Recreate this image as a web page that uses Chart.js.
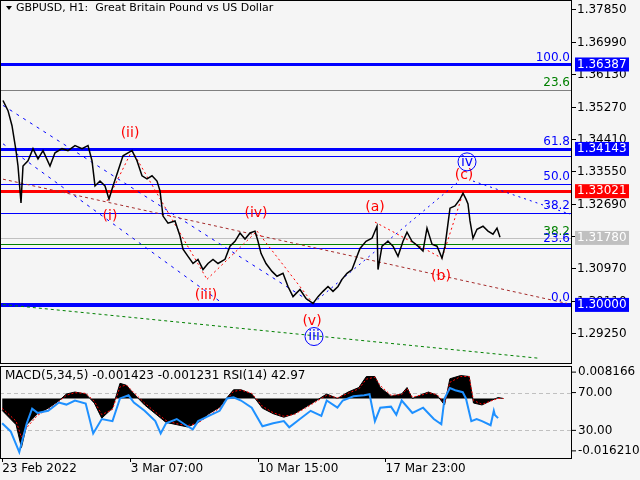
<!DOCTYPE html>
<html>
<head>
<meta charset="utf-8">
<script src="https://cdn.jsdelivr.net/npm/chart.js@4"></script>
<style>
  body { margin: 0; background: #f5f5f5; width: 640px; height: 480px; overflow: hidden; position: relative; }
  canvas { position: absolute; left: 0; }
  #main { top: 0; }
  #sub { top: 364px; }
</style>
</head>
<body>
<canvas id="main" width="640" height="364"></canvas>
<canvas id="sub" width="640" height="116"></canvas>
<script>
// price path (bar position, close)
const priceX = [3,8,12,16,18,21,23,28,33,38,43,50,55,62,68,75,82,88,92,95,100,105,109,113,118,123,128,132,137,142,147,152,157,160,163,168,175,180,183,188,193,198,203,208,213,218,225,230,235,240,245,250,255,258,261,266,272,277,283,288,293,300,306,313,318,323,328,333,338,342,347,352,357,360,366,372,377,378,382,388,393,398,403,407,412,418,423,427,432,437,442,445,447,450,455,460,463,466,468,470,473,477,483,488,493,497,500];
const priceY = [1.3543,1.3516,1.3476,1.3410,1.3369,1.3271,1.3369,1.3383,1.3415,1.3388,1.3410,1.3369,1.3404,1.3415,1.3410,1.3423,1.3415,1.3423,1.3383,1.3316,1.3329,1.3316,1.3281,1.3316,1.3356,1.3396,1.3404,1.3410,1.3383,1.3343,1.3335,1.3343,1.3329,1.3303,1.3236,1.3217,1.3223,1.3183,1.3148,1.3129,1.3110,1.3121,1.3094,1.3110,1.3121,1.3110,1.3121,1.3156,1.3169,1.3191,1.3175,1.3191,1.3196,1.3169,1.3137,1.3110,1.3089,1.3076,1.3084,1.3049,1.3022,1.3041,1.3017,1.3004,1.3022,1.3036,1.3049,1.3036,1.3049,1.3068,1.3084,1.3094,1.3129,1.3150,1.3169,1.3177,1.3209,1.3094,1.3156,1.3169,1.3156,1.3129,1.3169,1.3193,1.3169,1.3156,1.3143,1.3204,1.3161,1.3156,1.3124,1.3156,1.3196,1.3257,1.3263,1.3281,1.3297,1.3281,1.3268,1.3223,1.3177,1.3201,1.3209,1.3196,1.3188,1.3204,1.3180];

const priceTicks = [1.37850,1.36990,1.36130,1.35270,1.34410,1.33550,1.32690,1.31830,1.30970,1.30110,1.29250];

// horizontal levels: [price, color, width]
const levels = [
  [1.36387,'#0000ff',3],[1.35720,'#808080',1],[1.34143,'#0000ff',3],[1.33960,'#0000ff',1],
  [1.33210,'#0000ff',1],[1.33021,'#ff0000',3],[1.32440,'#0000ff',1],[1.31780,'#c0c0c0',1],
  [1.31610,'#008000',1],[1.31510,'#0000ff',1],[1.30000,'#0000ff',4]
];
// fibo labels: [text, price, color]
const fiboLabels = [
  ['100.0',1.36387,'#0000ff'],['23.6',1.35720,'#008000'],['61.8',1.34143,'#0000ff'],
  ['50.0',1.33210,'#0000ff'],['38.2',1.32440,'#0000ff'],['38.2',1.31760,'#008000'],
  ['23.6',1.31560,'#0000ff'],['0.0',1.30000,'#0000ff']
];
// price tags on the axis
const priceTags = [[1.36387,'#0000ff'],[1.34143,'#0000ff'],[1.33021,'#ff0000'],[1.31780,'#c0c0c0'],[1.30000,'#0000ff']];

// trend lines: [x1,p1,x2,p2,color,dash]
const trendLines = [
  [3,1.3530,313,1.3004,'#0000ff',[3,5]],
  [3,1.3428,220,1.3009,'#0000ff',[3,5]],
  [3,1.3334,567,1.3004,'#a52a2a',[3,3]],
  [3,1.3001,540,1.2858,'#008000',[3,3]],
  [313,1.3004,457,1.3324,'#0000ff',[2,4]],
  [473,1.3329,570,1.3241,'#0000ff',[2,4]],
  [107,1.3276,132,1.3410,'#ff0000',[2,3]],
  [132,1.3410,207,1.3068,'#ff0000',[2,3]],
  [207,1.3068,257,1.3196,'#ff0000',[2,3]],
  [257,1.3196,313,1.3004,'#ff0000',[2,3]],
  [375,1.3220,442,1.3124,'#ff0000',[2,3]],
  [442,1.3124,463,1.3297,'#ff0000',[2,3]]
];
// wave labels: [text, x, price, color, circle]
const waveLabels = [
  ['(i)',110,1.3236,'#ff0000',false],['(ii)',130,1.3455,'#ff0000',false],
  ['(iii)',206,1.3025,'#ff0000',false],['(iv)',256,1.3244,'#ff0000',false],
  ['(v)',312,1.2956,'#ff0000',false],['(a)',375,1.3260,'#ff0000',false],
  ['(b)',441,1.3076,'#ff0000',false],['(c)',464,1.3345,'#ff0000',false],
  ['iv',467,1.3380,'#0000ff',true],['iii',314,1.2916,'#0000ff',true]
];

// indicator window
const macdX = [2,15,20,25,35,45,55,62,70,80,88,95,105,112,118,125,135,145,155,165,175,185,195,205,212,218,225,235,245,255,265,275,285,295,305,315,325,335,342,350,355,365,375,380,385,395,400,408,415,420,430,438,442,450,458,465,470];
const macdY = [-0.0037,-0.0081,-0.0152,-0.0081,-0.0047,-0.0030,-0.0007,0.0014,0.0020,0.0014,-0.0014,-0.0061,-0.0030,0.0047,0.0041,0.0014,-0.0020,-0.0047,-0.0074,-0.0081,-0.0088,-0.0074,-0.0047,-0.0027,0.0003,0.0027,0.0027,0.0014,-0.0030,-0.0047,-0.0058,-0.0047,-0.0027,-0.0007,0.0014,0.0000,0.0020,0.0034,0.0068,0.0068,0.0034,0.0007,0.0014,0.0034,0.0000,0.0014,0.0020,0.0010,-0.0020,0.0061,0.0071,0.0068,-0.0014,-0.0020,-0.0007,0.0003,0.0000];
const signalY = [-0.0030,-0.0070,-0.0120,-0.0090,-0.0052,-0.0034,-0.0010,0.0010,0.0018,0.0016,-0.0008,-0.0050,-0.0034,0.0036,0.0042,0.0018,-0.0014,-0.0042,-0.0068,-0.0078,-0.0084,-0.0076,-0.0052,-0.0030,-0.0002,0.0022,0.0026,0.0016,-0.0024,-0.0044,-0.0055,-0.0049,-0.0030,-0.0010,0.0010,0.0002,0.0016,0.0030,0.0060,0.0066,0.0040,0.0010,0.0012,0.0030,0.0004,0.0012,0.0018,0.0012,-0.0014,0.0050,0.0068,0.0068,-0.0006,-0.0018,-0.0008,0.0000,0.0000];
const rsiX = [2,10,18,25,30,35,45,55,62,70,80,87,95,105,112,120,125,135,145,150,155,165,175,180,185,195,205,212,218,225,235,245,255,265,270,280,290,300,305,315,320,330,340,345,350,355,365,370,375,385,395,405,412,415,420,425,432,435,440,445,450,458,461,462,465];
const rsiY = [37.6,28.9,7.1,37.6,52.9,48.5,50.7,59.5,57.3,61.6,58.4,26.7,42.0,39.8,63.8,67.1,59.5,50.7,39.8,26.7,37.6,42.0,34.4,31.1,39.8,45.3,50.7,63.8,64.9,61.6,54.0,34.4,37.6,39.8,33.3,42.0,50.7,45.3,61.6,54.0,61.6,66.0,67.1,68.2,39.8,54.0,55.1,46.4,61.6,48.5,54.0,42.0,36.5,63.8,74.7,72.5,70.4,63.8,39.8,42.0,39.8,35.5,50.7,46.4,42.97];
const timeTicks = [2,122,241,360];
const timeLabels = ['23 Feb 2022','3 Mar 07:00','10 Mar 15:00','17 Mar 23:00'];

const FONT = 'DejaVu Sans';
Chart.defaults.font.family = FONT;
Chart.defaults.animation = false;

const pts = (xs, ys) => xs.map((x, i) => ({ x: x, y: ys[i] }));

const mainDecor = {
  id: 'mainDecor',
  beforeDatasetsDraw(chart) {
    const { ctx, chartArea: a, scales: { x, y } } = chart;
    ctx.save();
    ctx.beginPath(); ctx.rect(a.left, a.top, a.width, a.height); ctx.clip();
    levels.forEach(([p, c, w]) => {
      const py = Math.round(y.getPixelForValue(p)) + (w % 2 ? 0.5 : 0);
      ctx.strokeStyle = c; ctx.lineWidth = w;
      ctx.beginPath(); ctx.moveTo(a.left, py); ctx.lineTo(a.right, py); ctx.stroke();
    });
    trendLines.forEach(([x1, p1, x2, p2, c, d]) => {
      ctx.strokeStyle = c; ctx.lineWidth = 1; ctx.setLineDash(d);
      ctx.beginPath();
      ctx.moveTo(x.getPixelForValue(x1), y.getPixelForValue(p1));
      ctx.lineTo(x.getPixelForValue(x2), y.getPixelForValue(p2));
      ctx.stroke();
    });
    ctx.setLineDash([]);
    ctx.restore();
  },
  afterDatasetsDraw(chart) {
    const { ctx, chartArea: a, scales: { x, y } } = chart;
    ctx.save();
    ctx.font = '12px ' + FONT;
    ctx.textAlign = 'right'; ctx.textBaseline = 'bottom';
    fiboLabels.forEach(([t, p, c]) => {
      ctx.fillStyle = c;
      ctx.fillText(t, a.right - 2, y.getPixelForValue(p) - 1);
    });
    ctx.font = '14px ' + FONT;
    ctx.textAlign = 'center'; ctx.textBaseline = 'middle';
    waveLabels.forEach(([t, wx, p, c, circ]) => {
      const px = x.getPixelForValue(wx), py = y.getPixelForValue(p);
      ctx.fillStyle = c;
      ctx.fillText(t, px, py);
      if (circ) {
        ctx.strokeStyle = c; ctx.lineWidth = 1;
        ctx.beginPath(); ctx.arc(px, py, 9, 0, Math.PI * 2); ctx.stroke();
      }
    });
    // frame
    ctx.strokeStyle = '#000'; ctx.lineWidth = 1;
    ctx.strokeRect(a.left + 0.5, a.top + 0.5, a.width - 1, a.height - 1);
    // price axis
    ctx.font = '12px ' + FONT;
    ctx.textAlign = 'left'; ctx.textBaseline = 'middle'; ctx.fillStyle = '#000';
    priceTicks.forEach(p => {
      const py = Math.round(y.getPixelForValue(p)) + 0.5;
      ctx.beginPath(); ctx.moveTo(a.right, py); ctx.lineTo(a.right + 4, py); ctx.stroke();
      ctx.fillText(p.toFixed(5), a.right + 5, py);
    });
    // header
    ctx.font = '11px ' + FONT;
    ctx.textBaseline = 'top';
    ctx.beginPath(); ctx.moveTo(6, 6); ctx.lineTo(12, 6); ctx.lineTo(9, 10); ctx.closePath(); ctx.fill();
    ctx.fillText('GBPUSD, H1:  Great Britain Pound vs US Dollar', 16, 3);
    // price tags
    ctx.font = '12px ' + FONT;
    ctx.textBaseline = 'middle';
    priceTags.forEach(([p, c]) => {
      const py = y.getPixelForValue(p);
      ctx.fillStyle = c; ctx.fillRect(a.right + 3, py - 7, 54, 14);
      ctx.fillStyle = '#fff'; ctx.fillText(p.toFixed(5), a.right + 5, py);
    });
    ctx.restore();
  }
};

new Chart(document.getElementById('main'), {
  type: 'line',
  data: { datasets: [{ data: pts(priceX, priceY), borderColor: '#000', borderWidth: 1.5, pointRadius: 0, tension: 0 }] },
  options: {
    responsive: false,
    layout: { padding: { left: 0, top: 0, bottom: 0, right: 68 } },
    plugins: { legend: { display: false }, tooltip: { enabled: false } },
    scales: {
      x: { type: 'linear', min: 0, max: 572, display: false },
      y: { type: 'linear', min: 1.2843, max: 1.3810, display: false }
    }
  },
  plugins: [mainDecor]
});

const subDecor = {
  id: 'subDecor',
  beforeDatasetsDraw(chart) {
    const { ctx, chartArea: a, scales: { rsi } } = chart;
    ctx.save();
    ctx.strokeStyle = '#c0c0c0'; ctx.setLineDash([4, 3]); ctx.lineWidth = 1;
    [70, 30].forEach(v => {
      const py = Math.round(rsi.getPixelForValue(v)) + 0.5;
      ctx.beginPath(); ctx.moveTo(a.left, py); ctx.lineTo(a.right, py); ctx.stroke();
    });
    ctx.restore();
  },
  afterDraw(chart) {
    const { ctx, chartArea: a, scales: { rsi, macd } } = chart;
    ctx.save();
    ctx.strokeStyle = '#000'; ctx.lineWidth = 1;
    ctx.strokeRect(a.left + 0.5, a.top + 0.5, a.width - 1, a.height);
    ctx.font = '12px ' + FONT; ctx.fillStyle = '#000';
    ctx.textBaseline = 'middle'; ctx.textAlign = 'left';
    const marks = [['0.008166', macd.getPixelForValue(0.008166)], ['70.00', rsi.getPixelForValue(70)],
                   ['30.00', rsi.getPixelForValue(30)], ['-0.016210', macd.getPixelForValue(-0.01621)]];
    marks.forEach(([t, py]) => {
      ctx.beginPath(); ctx.moveTo(a.right, py); ctx.lineTo(a.right + 4, py); ctx.stroke();
      ctx.fillText(t, a.right + 6, py);
    });
    ctx.textBaseline = 'top';
    ctx.fillText('MACD(5,34,5) -0.001423 -0.001231 RSI(14) 42.97', 5, a.top + 4);
    ctx.restore();
  }
};

new Chart(document.getElementById('sub'), {
  type: 'line',
  data: {
    datasets: [
      { data: pts(rsiX, rsiY), yAxisID: 'rsi', borderColor: '#1e90ff', borderWidth: 2, pointRadius: 0, tension: 0 },
      { data: pts(macdX, signalY), yAxisID: 'macd', borderColor: '#ff0000', borderWidth: 1, borderDash: [2, 2], pointRadius: 0, tension: 0 },
      { data: pts(macdX, macdY), yAxisID: 'macd', borderColor: '#000', backgroundColor: '#000', borderWidth: 1, fill: 'origin', pointRadius: 0, tension: 0 }
    ]
  },
  options: {
    responsive: false,
    layout: { padding: { top: 2, right: 68, left: 0 } },
    plugins: { legend: { display: false }, tooltip: { enabled: false } },
    scales: {
      x: {
        type: 'linear', min: 0, max: 534,
        afterBuildTicks: s => { s.ticks = timeTicks.map(v => ({ value: v })); },
        border: { display: false },
        grid: { drawOnChartArea: false, color: '#000', tickLength: 4 },
        ticks: {
          color: '#000', font: { size: 12 }, maxRotation: 0, autoSkip: false, align: 'start', padding: 0,
          callback: v => timeLabels[timeTicks.indexOf(v)]
        },
        afterFit: s => { s.height = 22; }
      },
      rsi: { type: 'linear', axis: 'y', display: false, min: 0.8, max: 98.1 },
      macd: { type: 'linear', axis: 'y', display: false, min: -0.01842, max: 0.01006 }
    }
  },
  plugins: [subDecor]
});
</script>
</body>
</html>
